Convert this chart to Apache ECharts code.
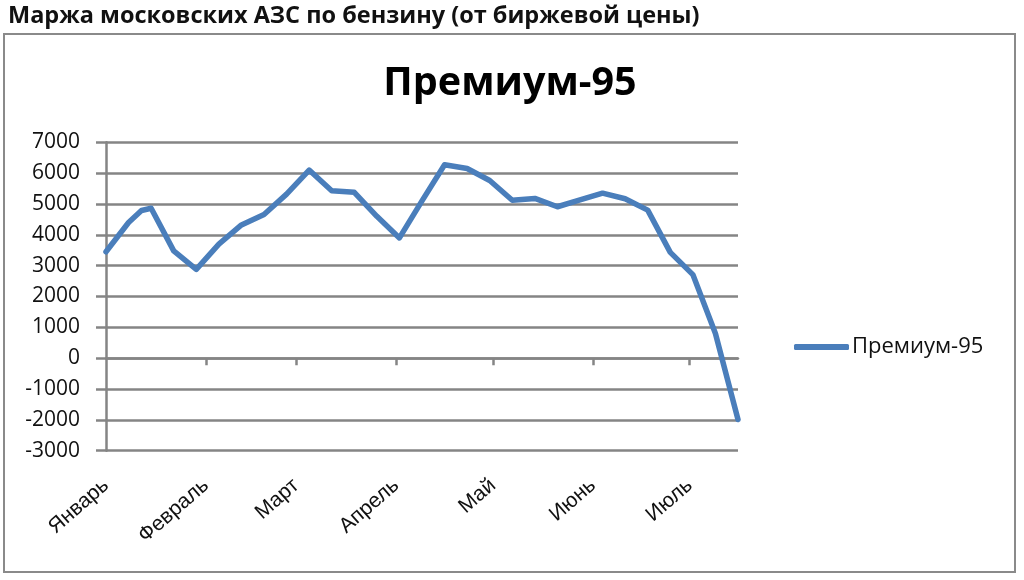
<!DOCTYPE html>
<html>
<head>
<meta charset="utf-8">
<script src="https://cdn.jsdelivr.net/npm/echarts@6/dist/echarts.min.js"></script>
<style>
html,body{margin:0;padding:0;background:#fff;}
#chart{width:1024px;height:580px;}
</style>
</head>
<body>
<div id="chart"></div>
<script>
// ---- data ----
var pageTitle = 'Маржа московских АЗС по бензину (от биржевой цены)';
var chartTitle = 'Премиум-95';
var seriesName = 'Премиум-95';
var dates = ['2011-01-01','2011-01-08','2011-01-12','2011-01-15','2011-01-22','2011-01-29',
  '2011-02-05','2011-02-12','2011-02-19','2011-02-26','2011-03-05','2011-03-12','2011-03-19',
  '2011-03-26','2011-04-02','2011-04-09','2011-04-16','2011-04-23','2011-04-30','2011-05-07',
  '2011-05-14','2011-05-21','2011-05-28','2011-06-04','2011-06-11','2011-06-18','2011-06-25',
  '2011-07-02','2011-07-09','2011-07-16'];
var values = [3450,4400,4790,4860,3480,2880,3700,4320,4660,5320,6100,5430,5380,4600,3900,
  5100,6270,6150,5760,5120,5180,4910,5130,5350,5170,4800,3430,2710,800,-1990];
var monthStarts = ['2011-01-01','2011-02-01','2011-03-01','2011-04-01','2011-05-01','2011-06-01','2011-07-01'];
var monthLabels = ['Январь','Февраль','Март','Апрель','Май','Июнь','Июль'];
var yMin = -3000, yMax = 7000, yStep = 1000;
var xStartDate = '2011-01-01', xEndDate = '2011-07-16';

// ---- helpers ----
function dayNum(s){
  var p = s.split('-');
  return Math.round((Date.UTC(+p[0], +p[1]-1, +p[2]) - Date.UTC(2011,0,1)) / 86400000);
}
var points = dates.map(function(d,i){ return [dayNum(d), values[i]]; });
var tickDays = monthStarts.map(dayNum);
var labelMap = {};
tickDays.forEach(function(d,i){ labelMap[d] = monthLabels[i]; });
var xMin = dayNum(xStartDate), xMax = dayNum(xEndDate);

var gridColor = '#858585';
var lineBlue = '#4a7ebb';

var chart = echarts.init(document.getElementById('chart'), null, {renderer:'canvas'});
chart.setOption({
  animation: false,
  backgroundColor: '#ffffff',
  title: [
    {text: pageTitle, left: 3, top: -1,
     textStyle:{fontFamily:'Open Sans', fontWeight:'bold', fontSize:23.5, color:'#111'}},
    {text: chartTitle, left: 505, top: 59, textAlign: 'center',
     textStyle:{fontFamily:'Open Sans', fontWeight:'bold', fontSize:39.5, color:'#000'}}
  ],
  graphic: [
    {type:'rect', shape:{x:4, y:34, width:1011, height:538},
     style:{fill:null, stroke:'#8a8a8a', lineWidth:2}, z:-1}
  ],
  legend: {
    left: 789, top: 331,
    itemWidth: 55, itemHeight: 6, icon: 'roundRect', itemGap: 0,
    textStyle:{fontFamily:'Open Sans', fontSize:22, color:'#111', padding:[0,0,0,-2]},
    data:[seriesName]
  },
  grid: {left:106, right:286, top:142.3, bottom:129.3, containLabel:false},
  xAxis: [
    {type:'value', min:xMin, max:xMax,
     axisLine:{show:true, onZero:true, lineStyle:{color:gridColor, width:2.5}},
     axisTick:{show:true, customValues: tickDays.slice(1), length:7, inside:false,
               lineStyle:{color:gridColor, width:2.5}},
     axisLabel:{show:false}, splitLine:{show:false}},
    {type:'value', min:xMin, max:xMax, position:'bottom',
     axisLine:{show:false, onZero:false}, axisTick:{show:false}, splitLine:{show:false},
     axisLabel:{show:true, customValues: tickDays, rotate:41, margin:32,
       fontFamily:'Liberation Sans', fontSize:21, color:'#111',
       formatter:function(v){ return labelMap[v] || ''; }}}
  ],
  yAxis: {
    type:'value', min:yMin, max:yMax, interval:yStep,
    axisLine:{show:true, lineStyle:{color:gridColor, width:2.5}},
    axisTick:{show:true, length:10, lineStyle:{color:gridColor, width:2.5}},
    splitLine:{show:true, lineStyle:{color:gridColor, width:2.5}},
    axisLabel:{margin:26, fontFamily:'Open Sans', fontSize:21, color:'#111',
      formatter:function(v){ return String(v); }}
  },
  series: [{
    name: seriesName, type:'line', xAxisIndex:0, data: points,
    showSymbol:false, symbol:'none',
    lineStyle:{color:lineBlue, width:5.5, cap:'round', join:'round'},
    itemStyle:{color:lineBlue}
  }]
});
</script>
</body>
</html>
